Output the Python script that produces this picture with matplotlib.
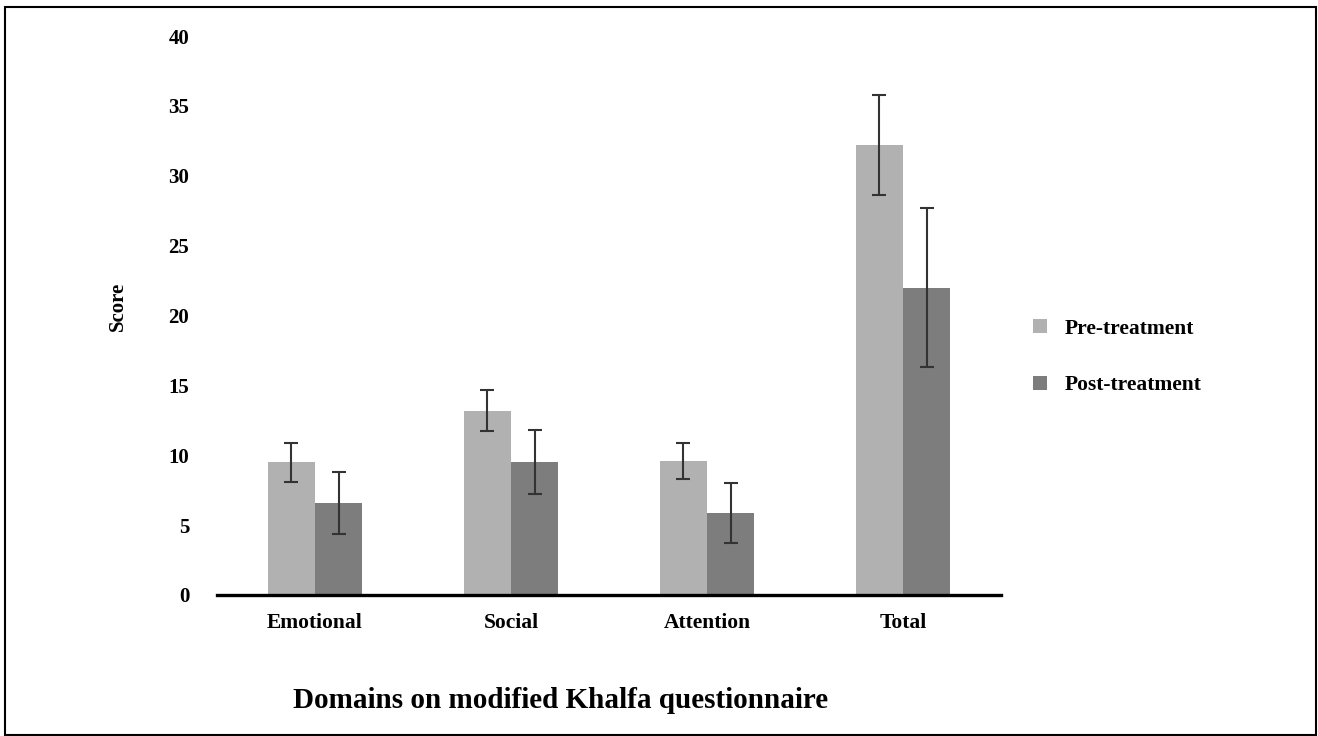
import numpy as np
import matplotlib
matplotlib.use("Agg")
import matplotlib.pyplot as plt
from matplotlib.patches import Rectangle

# data
domains = ["Emotional", "Social", "Attention", "Total"]
pre_mean = [9.5, 13.2, 9.6, 32.2]
pre_err = [1.4, 1.5, 1.3, 3.6]
post_mean = [6.6, 9.5, 5.9, 22.0]
post_err = [2.2, 2.3, 2.15, 5.7]
series_labels = ["Pre-treatment", "Post-treatment"]
y_ticks = [0, 5, 10, 15, 20, 25, 30, 35, 40]

plt.rcParams["font.family"] = ["Liberation Serif", "DejaVu Serif"]
plt.rcParams["font.weight"] = "bold"

pre_color = "#b1b1b1"
post_color = "#7d7d7d"
err_color = "#333333"

fig = plt.figure(figsize=(13.18, 7.36), dpi=100)
ax = fig.add_axes([217 / 1318, 1 - 595 / 736, 784 / 1318, 559 / 736])

x = np.arange(len(domains))
w = 0.24
ax.bar(x - w / 2, pre_mean, w, color=pre_color, label=series_labels[0], zorder=2)
ax.bar(x + w / 2, post_mean, w, color=post_color, label=series_labels[1], zorder=2)
ax.errorbar(x - w / 2, pre_mean, yerr=pre_err, fmt="none", ecolor=err_color,
            elinewidth=1.5, capsize=4.8, capthick=1.5, zorder=3)
ax.errorbar(x + w / 2, post_mean, yerr=post_err, fmt="none", ecolor=err_color,
            elinewidth=1.5, capsize=4.8, capthick=1.5, zorder=3)

ax.set_xlim(-0.5, 3.5)
ax.set_ylim(0, 40)
ax.set_yticks(y_ticks)
ax.set_yticklabels([str(t) for t in y_ticks], fontsize=15, fontweight="bold")
ax.set_xticks(x)
ax.set_xticklabels(domains, fontsize=15.5, fontweight="bold")
ax.tick_params(axis="y", length=0, pad=20)
ax.tick_params(axis="x", length=0, pad=13)

for side in ["left", "right", "top"]:
    ax.spines[side].set_visible(False)
ax.spines["bottom"].set_linewidth(2.4)
ax.spines["bottom"].set_color("black")
ax.spines["bottom"].set_zorder(4)

ax.set_ylabel("Score", fontsize=15, fontweight="bold")
ax.yaxis.set_label_coords(-0.1135, 0.517)

leg = ax.legend(loc="center left", bbox_to_anchor=(1033 / 1318, 1 - 357 / 736),
                bbox_transform=fig.transFigure, frameon=False, fontsize=15.5,
                handlelength=0.65, handleheight=0.65, handletextpad=0.8,
                labelspacing=1.7, borderpad=0, borderaxespad=0)
for t in leg.get_texts():
    t.set_fontweight("bold")

fig.text(561 / 1318, 1 - 700 / 736, "Domains on modified Khalfa questionnaire",
         ha="center", va="center", fontsize=21, fontweight="bold")

# outer frame
fig.patches.append(Rectangle((5 / 1318, 1 / 736), 1311 / 1318, 728 / 736,
                             transform=fig.transFigure, fill=False,
                             edgecolor="black", linewidth=1.5))

fig.savefig("out.png", dpi=100)
